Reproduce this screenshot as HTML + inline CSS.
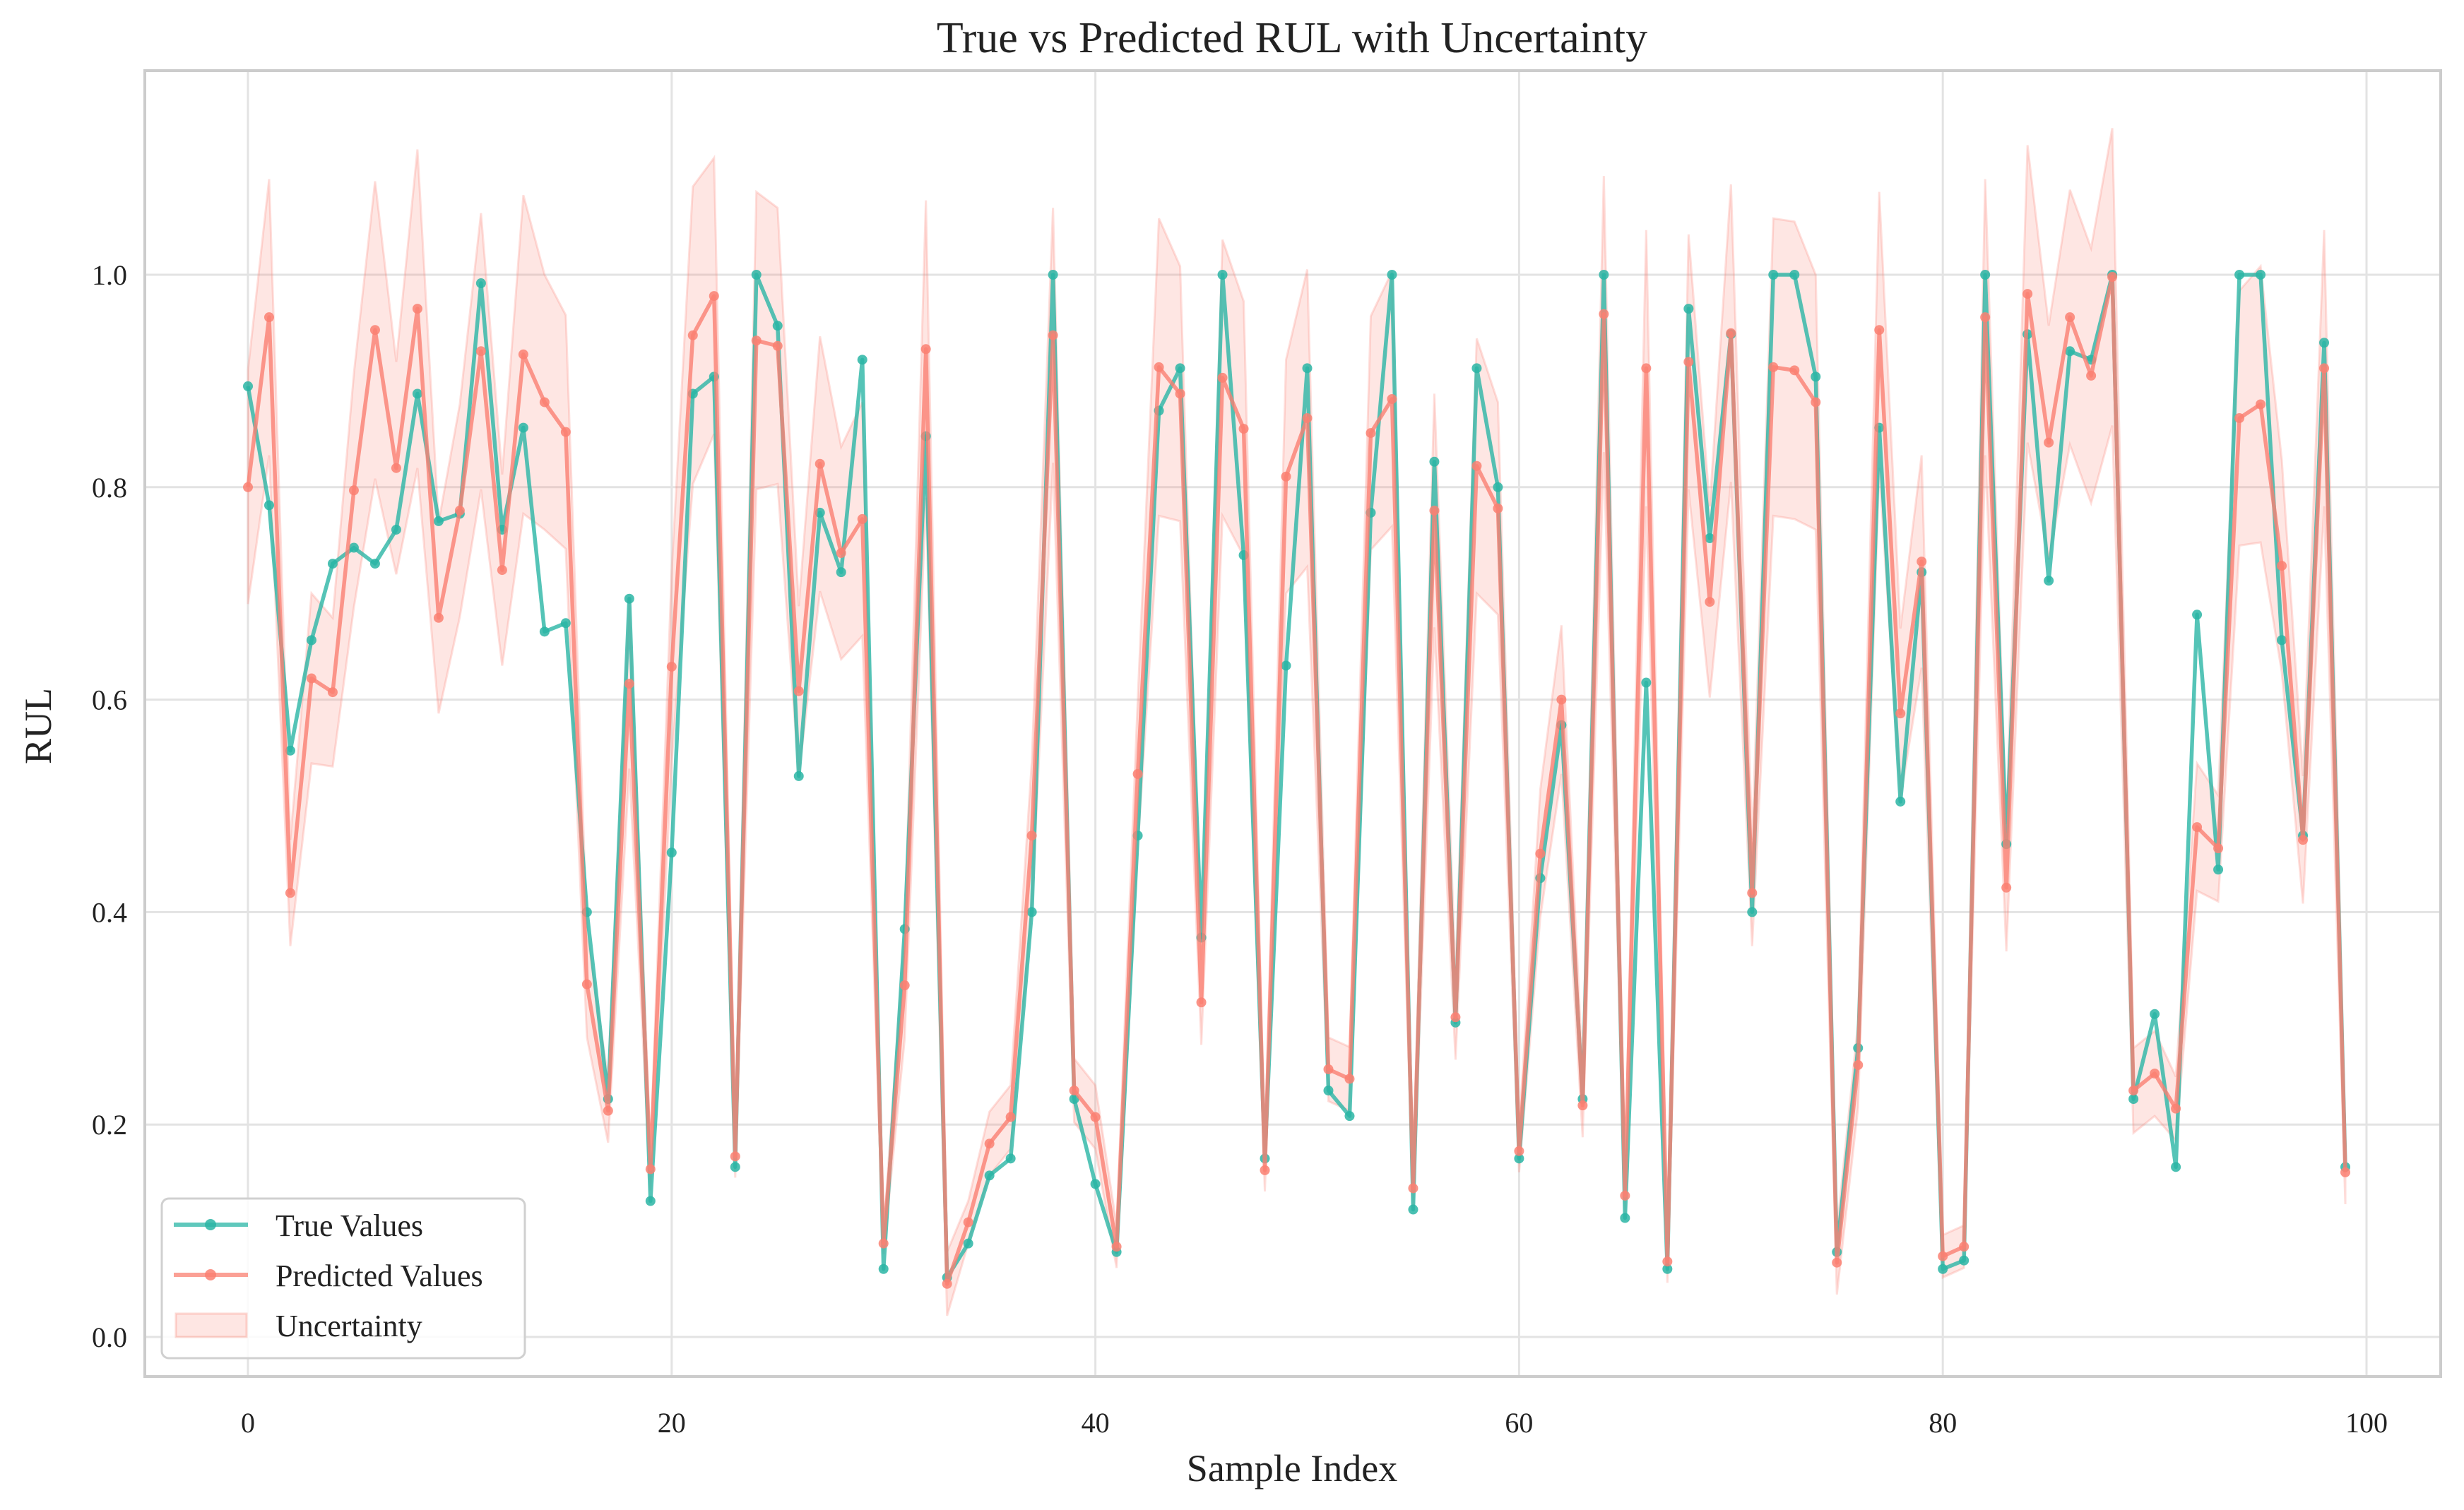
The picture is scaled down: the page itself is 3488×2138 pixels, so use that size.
<!DOCTYPE html>
<html><head><meta charset="utf-8"><style>
html,body{margin:0;padding:0;background:#fff;}
svg{display:block;font-family:"Liberation Serif",serif;}
</style></head><body>
<svg id="chart" width="3488" height="2138" viewBox="0 0 3488 2138" xmlns="http://www.w3.org/2000/svg">
<rect width="3488" height="2138" fill="#fff"/>
<g id="grid"></g>
<g id="band"></g>
<g id="series"></g>
<rect x="205" y="100" width="3250" height="1849" fill="none" stroke="#cccccc" stroke-width="4"/>
<g id="ticks"></g>
<text x="1829" y="74" text-anchor="middle" font-size="62" fill="#222">True vs Predicted RUL with Uncertainty</text>
<text x="1829" y="2097" text-anchor="middle" font-size="54" fill="#222">Sample Index</text>
<text transform="translate(72,1028) rotate(-90)" text-anchor="middle" font-size="54" fill="#222">RUL</text>
<g>
<rect x="229" y="1697" width="514" height="226" rx="10" fill="#fff" fill-opacity="0.85" stroke="#d0d0d0" stroke-width="3"/>
<g>
<line x1="246" y1="1734" x2="351" y2="1734" stroke="#2ab5a5" stroke-opacity="0.75" stroke-width="6"/>
<circle cx="298" cy="1734" r="8" fill="#2ab5a5" fill-opacity="0.85"/>
<text x="390" y="1750" font-size="44" fill="#222">True Values</text></g>
<g>
<line x1="246" y1="1805" x2="351" y2="1805" stroke="#fa8072" stroke-opacity="0.75" stroke-width="6"/>
<circle cx="298" cy="1805" r="8" fill="#fa8072" fill-opacity="0.85"/>
<text x="390" y="1821" font-size="44" fill="#222">Predicted Values</text></g>
<g>
<rect x="249" y="1860" width="100" height="33" fill="#fa8072" fill-opacity="0.2" stroke="#fa8072" stroke-opacity="0.3" stroke-width="3"/>
<text x="390" y="1892" font-size="44" fill="#222">Uncertainty</text></g>
</g>
</svg>
<script>
const trueVals=[0.895,0.783,0.552,0.656,0.728,0.743,0.728,0.760,0.888,0.768,0.775,0.992,0.760,0.856,0.664,0.672,0.400,0.224,0.695,0.128,0.456,0.888,0.904,0.160,1.0,0.952,0.528,0.776,0.720,0.920,0.064,0.384,0.848,0.056,0.088,0.152,0.168,0.400,1.0,0.224,0.144,0.080,0.472,0.872,0.912,0.376,1.0,0.736,0.168,0.632,0.912,0.232,0.208,0.776,1.0,0.120,0.824,0.296,0.912,0.800,0.168,0.432,0.576,0.224,1.0,0.112,0.616,0.064,0.968,0.752,0.944,0.400,1.0,1.0,0.904,0.080,0.272,0.856,0.504,0.720,0.064,0.072,1.0,0.464,0.944,0.712,0.928,0.920,1.0,0.224,0.304,0.160,0.680,0.440,1.0,1.0,0.656,0.472,0.936,0.160];
const predVals=[0.80,0.96,0.418,0.62,0.607,0.797,0.948,0.818,0.968,0.677,0.778,0.928,0.722,0.925,0.880,0.852,0.332,0.213,0.615,0.158,0.631,0.943,0.980,0.170,0.938,0.933,0.608,0.822,0.738,0.770,0.088,0.331,0.930,0.050,0.108,0.182,0.207,0.472,0.943,0.232,0.207,0.085,0.530,0.913,0.888,0.315,0.903,0.855,0.157,0.810,0.865,0.252,0.243,0.851,0.883,0.140,0.778,0.301,0.820,0.780,0.175,0.455,0.600,0.218,0.963,0.133,0.912,0.071,0.918,0.692,0.945,0.418,0.913,0.910,0.880,0.070,0.256,0.948,0.587,0.730,0.076,0.085,0.960,0.423,0.982,0.842,0.960,0.905,0.998,0.232,0.248,0.215,0.480,0.460,0.865,0.878,0.726,0.468,0.912,0.155];
const uncVals=[.11,.13,.05,.08,.07,.11,.14,.10,.15,.09,.10,.13,.09,.15,.12,.11,.05,.03,.08,.02,.09,.14,.13,.02,.14,.13,.08,.12,.10,.11,.01,.05,.14,.03,.02,.03,.03,.07,.12,.03,.03,.02,.07,.14,.12,.04,.13,.12,.02,.11,.14,.03,.03,.11,.12,.02,.11,.04,.12,.10,.02,.06,.07,.03,.13,.02,.13,.02,.12,.09,.14,.05,.14,.14,.12,.03,.04,.13,.08,.10,.02,.02,.13,.06,.14,.11,.12,.12,.14,.04,.04,.03,.06,.05,.12,.13,.10,.06,.13,.03];
const xTicks=[0,20,40,60,80,100];
const yTicks=[0.0,0.2,0.4,0.6,0.8,1.0];
const yTickLabels=["0.0","0.2","0.4","0.6","0.8","1.0"];

const NS="http://www.w3.org/2000/svg";
const X=v=>351+v*29.99;
const Y=v=>1893-v*1504;
function mk(tag,attrs,parent){const e=document.createElementNS(NS,tag);for(const k in attrs)e.setAttribute(k,attrs[k]);parent.appendChild(e);return e;}
const grid=document.getElementById('grid'),ticks=document.getElementById('ticks');
xTicks.forEach(t=>{
  const l=mk('line',{x1:X(t),x2:X(t),y1:100,y2:1949,stroke:'#e3e3e3','stroke-width':3},grid);
  
  
  const tx=mk('text',{x:X(t),y:2028,'text-anchor':'middle','font-size':40,fill:'#222'},ticks);
  tx.textContent=t;
  
  
});
yTicks.forEach((t,i)=>{
  const l=mk('line',{x1:205,x2:3455,y1:Y(t),y2:Y(t),stroke:'#e3e3e3','stroke-width':3},grid);
  
  
  const tx=mk('text',{x:180,y:Y(t)+14,'text-anchor':'end','font-size':40,fill:'#222'},ticks);
  tx.textContent=yTickLabels[i];
  
  
});
let up=[],lo=[];
predVals.forEach((p,i)=>{up.push(X(i)+','+Y(p+uncVals[i]));lo.unshift(X(i)+','+Y(p-uncVals[i]));});
const band=mk('polygon',{points:up.concat(lo).join(' '),fill:'#fa8072','fill-opacity':0.2,stroke:'#fa8072','stroke-opacity':0.25,'stroke-width':3},document.getElementById('band'));


const ser=document.getElementById('series');
function drawSeries(vals,color,name){
  const g=mk('g',{},ser);
  
  
  mk('polyline',{points:vals.map((v,i)=>X(i)+','+Y(v)).join(' '),fill:'none',stroke:color,'stroke-opacity':0.8,'stroke-width':5.5,'stroke-linejoin':'round'},g);
  vals.forEach((v,i)=>{
    const c=mk('circle',{cx:X(i),cy:Y(v),r:7,fill:color,'fill-opacity':0.85},g);
    
    
  });
}
drawSeries(trueVals,'#2ab5a5','true-values-line');
drawSeries(predVals,'#fa8072','predicted-values-line');
</script>
</body></html>
